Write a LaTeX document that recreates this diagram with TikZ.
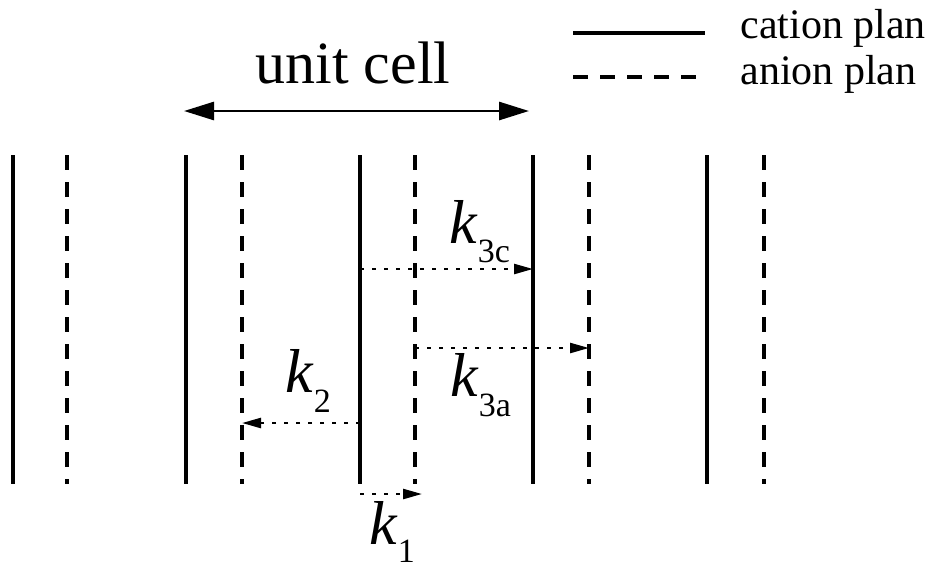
\documentclass[tikz,border=0pt]{standalone}
\usepackage{fontspec}
\setmainfont{Liberation Serif}
\usetikzlibrary{arrows.meta}

% k with a lowered index, #2 = drop of the index
\newcommand{\kname}[2]{{\fontsize{31}{31}\selectfont\textit{k}}\raisebox{-#2}{\fontsize{17}{17}\selectfont #1}}

\begin{document}
\begin{tikzpicture}[
    x=0.5pt, y=-0.5pt,
    cation/.style={line width=1.6pt},
    anion/.style={line width=1.6pt, dash pattern=on 7.5pt off 6pt},
    hop/.style={-{Triangle[length=9.5pt, width=5pt]}, line width=1.2pt, dash pattern=on 2pt off 4pt},
    cell/.style={{Triangle[length=15pt, width=9pt]}-{Triangle[length=15pt, width=9pt]}, line width=1.4pt},
    legtext/.style={anchor=base west, inner sep=0pt, font=\fontsize{21}{21}\selectfont},
    klabel/.style={anchor=base west, inner sep=0pt}
]
\useasboundingbox (0,0) rectangle (935,574);

% legend
\coordinate (catL) at (573,33);
\coordinate (catR) at (705,33);
\coordinate (anL) at (573,77);
\coordinate (anR) at (696,77);
\draw[cation] (catL) -- (catR);
\draw[anion] (anL) -- (anR);
\node[legtext] (cattext) at (740,38) {cation plan};
\node[legtext] (antext) at (740,84) {anion plan};

% unit cell
\node[anchor=base, font=\fontsize{30}{30}\selectfont] (cellname) at (353,83) {unit cell};
\coordinate (cellL) at (184,111);
\coordinate (cellR) at (529,111);
\draw[cell] (cellL) -- (cellR);

% planes
\draw[cation] (13,155) -- (13,484);
\draw[anion] (67,155) -- (67,484);
\draw[cation] (186,155) -- (186,484);
\draw[anion] (242,155) -- (242,484);
\draw[cation] (360,155) -- (360,484);
\draw[anion] (415,155) -- (415,484);
\draw[cation] (533,155) -- (533,484);
\draw[anion] (589,155) -- (589,484);
\draw[cation] (707,155) -- (707,484);
\draw[anion] (764,155) -- (764,484);

% hops
\coordinate (k3cs) at (360,269);
\coordinate (k3ce) at (533,269);
\coordinate (k3as) at (415,348);
\coordinate (k3ae) at (589,348);
\coordinate (k2s) at (360,423);
\coordinate (k2e) at (242,423);
\coordinate (k1s) at (360,494);
\coordinate (k1e) at (422,494);
\draw[hop] (k3cs) -- (k3ce);
\draw[hop] (k3as) -- (k3ae);
\draw[hop] (k2s) -- (k2e);
\draw[hop] (k1s) -- (k1e);

\node[klabel] (k3clab) at (449,243) {\kname{3c}{9.5pt}};
\node[klabel] (k3alab) at (450,396) {\kname{3a}{10pt}};
\node[klabel] (k2lab) at (285,392) {\kname{2}{10pt}};
\node[klabel] (k1lab) at (369,544) {\kname{1}{9pt}};

\end{tikzpicture}
\end{document}
